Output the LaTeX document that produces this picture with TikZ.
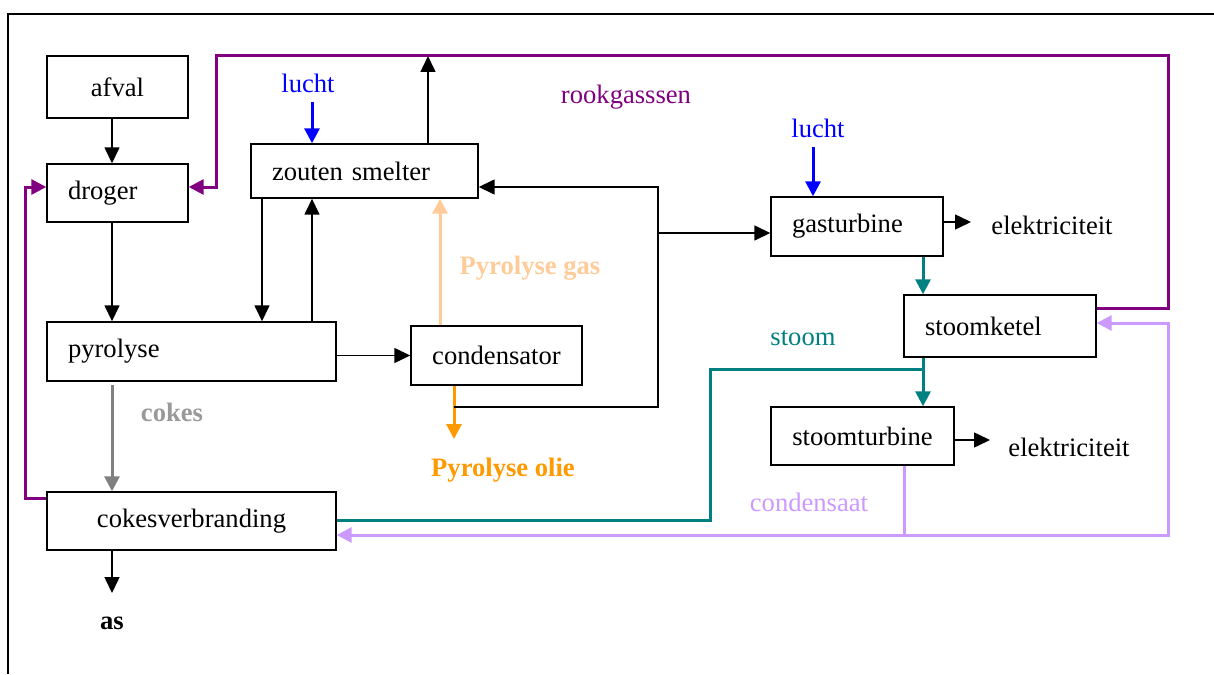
\documentclass[tikz,border=0pt]{standalone}
\usepackage{fontspec}
\setmainfont{Liberation Serif}
\usetikzlibrary{arrows.meta}
\definecolor{cpurple}{HTML}{800080}
\definecolor{cteal}{HTML}{008080}
\definecolor{cblue}{HTML}{0000FF}
\definecolor{cpeach}{HTML}{FFCC99}
\definecolor{corange}{HTML}{FF9900}
\definecolor{cgray}{HTML}{808080}
\definecolor{cgraytxt}{HTML}{999999}
\definecolor{clav}{HTML}{CC99FF}
\begin{document}
\begin{tikzpicture}[x=0.5pt,y=-0.5pt, font=\fontsize{13.3}{16}\selectfont,
 box/.style={draw, line width=0.7pt, inner xsep=10.5pt, inner ysep=0pt},
 lbl/.style={inner sep=0pt},
 conn/.style={line width=0.75pt, -{Triangle[length=8pt,width=7.5pt]}},
 flow/.style={line width=1.5pt, -{Triangle[length=7.5pt,width=7.5pt]}},
 plain/.style={line width=1.5pt}]
\useasboundingbox (0,0) rectangle (1214,674);
\draw[line width=1pt] (8,674) -- (8,14) -- (1214,14);

% boxes
\node[box, minimum width=70.5pt, minimum height=31pt] (afval) at (117.5,87) {afval};
\node[box, text width=49.5pt, align=left, minimum height=29pt] (droger) at (117.5,193) {droger};
\node[box, text width=92.5pt, align=left, minimum height=27pt] (zouten) at (364.5,171) {zouten smelter};
\node[box, text width=123.5pt, align=left, minimum height=29.5pt] (pyrolyse) at (191.5,351.5) {pyrolyse};
\node[box, minimum width=85.5pt, minimum height=29.5pt] (condensator) at (496.5,355.5) {condensator};
\node[box, minimum width=144.5pt, minimum height=29pt] (cokesverbranding) at (191.5,521) {cokesverbranding};
\node[box, text width=65pt, align=left, minimum height=29.5pt] (gasturbine) at (857,226.5) {gasturbine};
\node[box, text width=75pt, align=left, minimum height=31pt] (stoomketel) at (1000,326) {stoomketel};
\node[box, minimum width=91.5pt, minimum height=29pt] (stoomturbine) at (862.5,436) {stoomturbine};

% labels
\node[lbl, text=cblue] (lucht1) at (308,83) {lucht};
\node[lbl, text=cblue] (lucht2) at (818,128) {lucht};
\node[lbl, text=cpurple] (rook) at (626,97) {rookgasssen};
\node[lbl, text=cpeach, font=\fontsize{13.3}{16}\selectfont\bfseries] (pgas) at (530,268) {Pyrolyse gas};
\node[lbl, text=cgraytxt, font=\fontsize{13.3}{16}\selectfont\bfseries] (cokes) at (172,412) {cokes};
\node[lbl, text=corange, font=\fontsize{13.3}{16}\selectfont\bfseries] (polie) at (503,470) {Pyrolyse olie};
\node[lbl, font=\fontsize{13.3}{16}\selectfont\bfseries] (as) at (112,623) {as};
\node[lbl] (el1) at (1052,225) {elektriciteit};
\node[lbl] (el2) at (1069,447) {elektriciteit};
\node[lbl, text=cteal] (stoom) at (803,338) {stoom};
\node[lbl, text=clav] (condensaat) at (809,502) {condensaat};

% helper coordinates
\coordinate (x262) at (262,0);
\coordinate (x440) at (440,0);
\coordinate (rgL) at (216,56); \coordinate (rgR) at (1168,56);
\coordinate (rgD) at (216,187); \coordinate (rgK) at (1168,308);
\coordinate (lpD) at (25,187); \coordinate (lpB) at (25,498);
\coordinate (lu1) at (312,102); \coordinate (lu2) at (813,147);
\coordinate (zt) at (428,56);
\coordinate (j1) at (454,407); \coordinate (j2) at (658,407);
\coordinate (j3) at (658,187); \coordinate (j4) at (658,233);
\coordinate (po) at (454,439);
\coordinate (ck) at (112,385);
\coordinate (asE) at (112,593);
\coordinate (e1) at (971,222); \coordinate (e2) at (990,440);
\coordinate (st1) at (923,369); \coordinate (st2) at (710,369); \coordinate (st3) at (710,520);
\coordinate (cd1) at (904,535); \coordinate (cd2) at (1168,535); \coordinate (cd3) at (1168,323);

% colored flows
\draw[flow, cblue] (lu1) -- (zouten.north -| lu1);
\draw[flow, cblue] (lu2) -- (gasturbine.north -| lu2);
\draw[flow, cpurple] (stoomketel.east |- rgK) -- (rgK) -- (rgR) -- (rgL) -- (rgD) -- (droger.east |- rgD);
\draw[flow, cpurple] (cokesverbranding.west |- lpB) -- (lpB) -- (lpD) -- (droger.west |- lpD);
\draw[flow, cpeach] (condensator.north -| x440) -- (zouten.south -| x440);
\draw[flow, corange] (condensator.south -| po) -- (po);
\draw[flow, cgray] (ck) -- (cokesverbranding.north -| ck);
\draw[flow, cteal] (gasturbine.south -| st1) -- (stoomketel.north -| st1);
\draw[flow, cteal] (stoomketel.south -| st1) -- (stoomturbine.north -| st1);
\draw[plain, cteal] (st1) -- (st2) -- (st3) -- (cokesverbranding.east |- st3);
\draw[plain, clav] (stoomturbine.south -| cd1) -- (cd1);
\draw[flow, clav] (cd1) -- (cd2) -- (cd3) -- (stoomketel.east |- cd3);
\draw[flow, clav] (cd1) -- (cokesverbranding.east |- cd1);

% black connectors
\draw[conn] (afval.south -| ck) -- (droger.north -| ck);
\draw[conn] (droger.south -| ck) -- (pyrolyse.north -| ck);
\draw[conn] (zouten.south -| x262) -- (pyrolyse.north -| x262);
\draw[conn] (pyrolyse.north -| lu1) -- (zouten.south -| lu1);
\draw[conn] (zouten.north -| zt) -- (zt);
\draw[conn] (pyrolyse.east |- condensator.west) -- (condensator.west);
\draw[conn] (j1) -- (j2) -- (j3) -- (zouten.east |- j3);
\draw[conn] (j4) -- (gasturbine.west |- j4);
\draw[conn] (gasturbine.east |- e1) -- (e1);
\draw[conn] (stoomturbine.east |- e2) -- (e2);
\draw[conn] (cokesverbranding.south -| asE) -- (asE);
\end{tikzpicture}
\end{document}
